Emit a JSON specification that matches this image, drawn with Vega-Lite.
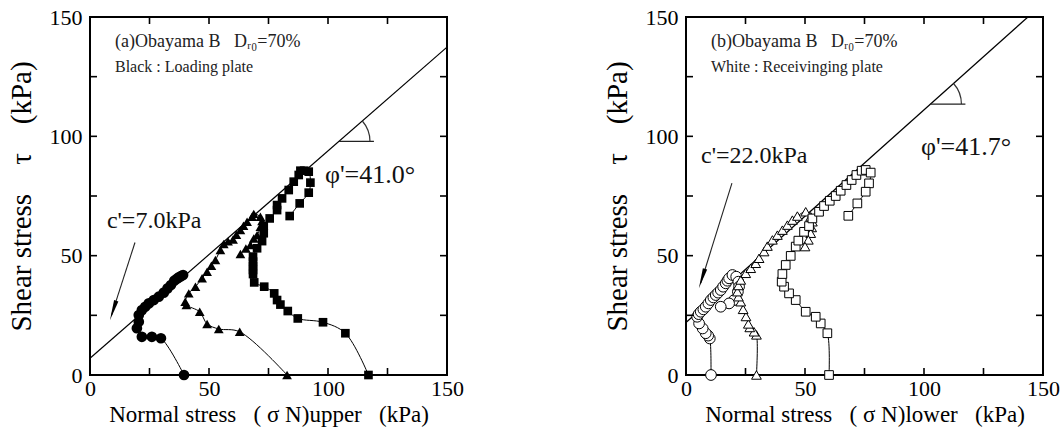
{
  "$schema": "https://vega.github.io/schema/vega-lite/v6.json",
  "padding": {"left": 6, "top": 5, "right": 12, "bottom": 4},
  "background": "white",
  "bounds": "flush",
  "spacing": 239,
  "config": {
    "font": "Liberation Serif",
    "view": {"stroke": "black", "strokeWidth": 2},
    "axis": {
      "domain": false,
      "grid": false,
      "ticks": false,
      "labelFont": "Liberation Serif",
      "labelFontSize": 22,
      "labelColor": "black",
      "titleFont": "Liberation Serif",
      "titleFontWeight": "normal",
      "titleColor": "black",
      "labelOverlap": false,
      "labelFlush": false
    },
    "tick": {"color": "black", "thickness": 1.6, "opacity": 1}
  },
  "datasets": {
    "axisSteps": [{"v": 0}, {"v": 25}, {"v": 50}, {"v": 75}, {"v": 100}, {"v": 125}, {"v": 150}],
    "upperFit": [{"c": 7.0, "phi": 41.0}],
    "lowerFit": [{"c": 22.0, "phi": 41.7}],
    "upperGuides": [
      {"part": "arrow", "sx": 18.9, "sy": 55.5, "ex": 9.0, "ey": 25.0},
      {"part": "angle", "sx": 104.6, "sy": 97.9, "ex": 119.3, "ey": 97.9}
    ],
    "lowerGuides": [
      {"part": "arrow", "sx": 19.3, "sy": 80.4, "ex": 6.2, "ey": 38.5},
      {"part": "angle", "sx": 102.7, "sy": 113.5, "ex": 117.4, "ey": 113.5}
    ],
    "upperPaths": [
      {"test": "T1", "step": 1, "sn": 39.5, "tau": 0},
      {"test": "T1", "step": 2, "sn": 29.8, "tau": 15.4},
      {"test": "T1", "step": 3, "sn": 26.0, "tau": 16.0},
      {"test": "T1", "step": 4, "sn": 21.8, "tau": 16.0},
      {"test": "T1", "step": 5, "sn": 19.7, "tau": 19.6},
      {"test": "T1", "step": 6, "sn": 20.5, "tau": 22.3},
      {"test": "T1", "step": 7, "sn": 20.5, "tau": 25.1},
      {"test": "T1", "step": 8, "sn": 21.8, "tau": 27.2},
      {"test": "T1", "step": 9, "sn": 23.2, "tau": 28.6},
      {"test": "T1", "step": 10, "sn": 24.7, "tau": 30.0},
      {"test": "T1", "step": 11, "sn": 26.8, "tau": 31.4},
      {"test": "T1", "step": 12, "sn": 28.9, "tau": 32.8},
      {"test": "T1", "step": 13, "sn": 31.0, "tau": 34.5},
      {"test": "T1", "step": 14, "sn": 32.6, "tau": 36.3},
      {"test": "T1", "step": 15, "sn": 34.0, "tau": 37.7},
      {"test": "T1", "step": 16, "sn": 35.4, "tau": 39.5},
      {"test": "T1", "step": 17, "sn": 36.5, "tau": 40.3},
      {"test": "T1", "step": 18, "sn": 37.3, "tau": 40.9},
      {"test": "T1", "step": 19, "sn": 38.2, "tau": 41.4},
      {"test": "T1", "step": 20, "sn": 39.1, "tau": 41.9},
      {"test": "T2", "step": 1, "sn": 82.8, "tau": 0},
      {"test": "T2", "step": 2, "sn": 62.9, "tau": 18.1},
      {"test": "T2", "step": 3, "sn": 54.1, "tau": 19.3},
      {"test": "T2", "step": 4, "sn": 49.2, "tau": 21.4},
      {"test": "T2", "step": 5, "sn": 46.1, "tau": 26.5},
      {"test": "T2", "step": 6, "sn": 40.5, "tau": 29.3},
      {"test": "T2", "step": 7, "sn": 40.0, "tau": 30.7},
      {"test": "T2", "step": 8, "sn": 41.5, "tau": 34.2},
      {"test": "T2", "step": 9, "sn": 44.3, "tau": 37.0},
      {"test": "T2", "step": 10, "sn": 47.1, "tau": 40.5},
      {"test": "T2", "step": 11, "sn": 49.2, "tau": 43.3},
      {"test": "T2", "step": 12, "sn": 51.0, "tau": 45.8},
      {"test": "T2", "step": 13, "sn": 52.7, "tau": 48.2},
      {"test": "T2", "step": 14, "sn": 54.8, "tau": 52.4},
      {"test": "T2", "step": 15, "sn": 56.2, "tau": 54.9},
      {"test": "T2", "step": 16, "sn": 58.0, "tau": 56.0},
      {"test": "T2", "step": 17, "sn": 60.1, "tau": 56.8},
      {"test": "T2", "step": 18, "sn": 61.5, "tau": 58.8},
      {"test": "T2", "step": 19, "sn": 63.2, "tau": 60.7},
      {"test": "T2", "step": 20, "sn": 64.5, "tau": 62.5},
      {"test": "T2", "step": 21, "sn": 66.0, "tau": 64.2},
      {"test": "T2", "step": 22, "sn": 68.1, "tau": 66.3},
      {"test": "T2", "step": 23, "sn": 68.8, "tau": 67.5},
      {"test": "T2", "step": 24, "sn": 71.6, "tau": 66.3},
      {"test": "T2", "step": 25, "sn": 72.3, "tau": 64.5},
      {"test": "T2", "step": 26, "sn": 71.6, "tau": 62.1},
      {"test": "T2", "step": 27, "sn": 70.2, "tau": 58.6},
      {"test": "T2", "step": 28, "sn": 68.8, "tau": 57.2},
      {"test": "T2", "step": 29, "sn": 67.4, "tau": 54.5},
      {"test": "T2", "step": 30, "sn": 65.5, "tau": 53.0},
      {"test": "T2", "step": 31, "sn": 63.2, "tau": 50.7},
      {"test": "T3", "step": 1, "sn": 117.0, "tau": 0},
      {"test": "T3", "step": 2, "sn": 107.3, "tau": 17.5},
      {"test": "T3", "step": 3, "sn": 97.9, "tau": 22.1},
      {"test": "T3", "step": 4, "sn": 87.3, "tau": 23.7},
      {"test": "T3", "step": 5, "sn": 83.1, "tau": 26.8},
      {"test": "T3", "step": 6, "sn": 80.0, "tau": 29.5},
      {"test": "T3", "step": 7, "sn": 78.6, "tau": 31.4},
      {"test": "T3", "step": 8, "sn": 77.4, "tau": 34.2},
      {"test": "T3", "step": 9, "sn": 73.2, "tau": 37.0},
      {"test": "T3", "step": 10, "sn": 69.0, "tau": 38.8},
      {"test": "T3", "step": 11, "sn": 68.5, "tau": 42.3},
      {"test": "T3", "step": 12, "sn": 68.5, "tau": 44.0},
      {"test": "T3", "step": 13, "sn": 68.5, "tau": 45.7},
      {"test": "T3", "step": 14, "sn": 68.5, "tau": 47.5},
      {"test": "T3", "step": 15, "sn": 68.5, "tau": 49.6},
      {"test": "T3", "step": 16, "sn": 70.2, "tau": 53.1},
      {"test": "T3", "step": 17, "sn": 72.3, "tau": 56.1},
      {"test": "T3", "step": 18, "sn": 73.0, "tau": 59.4},
      {"test": "T3", "step": 19, "sn": 73.0, "tau": 62.4},
      {"test": "T3", "step": 20, "sn": 75.5, "tau": 65.6},
      {"test": "T3", "step": 21, "sn": 78.6, "tau": 69.1},
      {"test": "T3", "step": 22, "sn": 78.6, "tau": 71.2},
      {"test": "T3", "step": 23, "sn": 80.7, "tau": 74.0},
      {"test": "T3", "step": 24, "sn": 83.5, "tau": 77.5},
      {"test": "T3", "step": 25, "sn": 85.6, "tau": 81.0},
      {"test": "T3", "step": 26, "sn": 87.7, "tau": 83.8},
      {"test": "T3", "step": 27, "sn": 88.4, "tau": 85.6},
      {"test": "T3", "step": 28, "sn": 90.0, "tau": 85.6},
      {"test": "T3", "step": 29, "sn": 91.9, "tau": 85.2},
      {"test": "T3", "step": 30, "sn": 92.6, "tau": 80.6},
      {"test": "T3", "step": 31, "sn": 91.9, "tau": 76.4},
      {"test": "T3", "step": 32, "sn": 88.1, "tau": 71.9},
      {"test": "T3", "step": 33, "sn": 83.9, "tau": 66.6}
    ],
    "lowerPaths": [
      {"test": "T1", "step": 1, "sn": 10.5, "tau": 0},
      {"test": "T1", "step": 2, "sn": 10.0, "tau": 15.3},
      {"test": "T1", "step": 3, "sn": 9.3, "tau": 16.5},
      {"test": "T1", "step": 4, "sn": 8.3, "tau": 17.5},
      {"test": "T1", "step": 5, "sn": 7.0, "tau": 19.5},
      {"test": "T1", "step": 6, "sn": 5.5, "tau": 21.6},
      {"test": "T1", "step": 7, "sn": 4.7, "tau": 24.4},
      {"test": "T1", "step": 8, "sn": 5.3, "tau": 25.5},
      {"test": "T1", "step": 9, "sn": 6.2, "tau": 26.5},
      {"test": "T1", "step": 10, "sn": 7.3, "tau": 27.5},
      {"test": "T1", "step": 11, "sn": 8.3, "tau": 28.6},
      {"test": "T1", "step": 12, "sn": 9.4, "tau": 30.0},
      {"test": "T1", "step": 13, "sn": 10.4, "tau": 31.4},
      {"test": "T1", "step": 14, "sn": 11.5, "tau": 32.5},
      {"test": "T1", "step": 15, "sn": 12.5, "tau": 33.5},
      {"test": "T1", "step": 16, "sn": 13.5, "tau": 34.5},
      {"test": "T1", "step": 17, "sn": 14.6, "tau": 35.6},
      {"test": "T1", "step": 18, "sn": 15.6, "tau": 37.0},
      {"test": "T1", "step": 19, "sn": 16.7, "tau": 38.4},
      {"test": "T1", "step": 20, "sn": 17.4, "tau": 39.5},
      {"test": "T1", "step": 21, "sn": 18.1, "tau": 40.5},
      {"test": "T1", "step": 22, "sn": 19.5, "tau": 41.9},
      {"test": "T1", "step": 23, "sn": 21.1, "tau": 41.2},
      {"test": "T1", "step": 24, "sn": 22.0, "tau": 39.1},
      {"test": "T1", "step": 25, "sn": 22.3, "tau": 37.0},
      {"test": "T1", "step": 26, "sn": 21.8, "tau": 34.9},
      {"test": "T1", "step": 27, "sn": 20.2, "tau": 31.4},
      {"test": "T1", "step": 28, "sn": 18.1, "tau": 30.0},
      {"test": "T1", "step": 29, "sn": 14.6, "tau": 28.6},
      {"test": "T2", "step": 1, "sn": 29.6, "tau": 0},
      {"test": "T2", "step": 2, "sn": 29.6, "tau": 16.8},
      {"test": "T2", "step": 3, "sn": 28.6, "tau": 18.1},
      {"test": "T2", "step": 4, "sn": 26.8, "tau": 19.9},
      {"test": "T2", "step": 5, "sn": 26.2, "tau": 21.4},
      {"test": "T2", "step": 6, "sn": 25.2, "tau": 24.5},
      {"test": "T2", "step": 7, "sn": 24.0, "tau": 27.5},
      {"test": "T2", "step": 8, "sn": 23.0, "tau": 30.7},
      {"test": "T2", "step": 9, "sn": 22.0, "tau": 32.8},
      {"test": "T2", "step": 10, "sn": 21.6, "tau": 34.9},
      {"test": "T2", "step": 11, "sn": 22.0, "tau": 37.5},
      {"test": "T2", "step": 12, "sn": 23.0, "tau": 39.8},
      {"test": "T2", "step": 13, "sn": 25.1, "tau": 42.6},
      {"test": "T2", "step": 14, "sn": 27.2, "tau": 44.7},
      {"test": "T2", "step": 15, "sn": 29.3, "tau": 46.8},
      {"test": "T2", "step": 16, "sn": 30.7, "tau": 48.9},
      {"test": "T2", "step": 17, "sn": 32.8, "tau": 51.7},
      {"test": "T2", "step": 18, "sn": 34.2, "tau": 54.0},
      {"test": "T2", "step": 19, "sn": 36.3, "tau": 56.6},
      {"test": "T2", "step": 20, "sn": 38.4, "tau": 58.6},
      {"test": "T2", "step": 21, "sn": 40.5, "tau": 60.7},
      {"test": "T2", "step": 22, "sn": 42.6, "tau": 62.8},
      {"test": "T2", "step": 23, "sn": 44.7, "tau": 64.9},
      {"test": "T2", "step": 24, "sn": 46.8, "tau": 66.6},
      {"test": "T2", "step": 25, "sn": 50.3, "tau": 68.4},
      {"test": "T2", "step": 26, "sn": 52.4, "tau": 66.3},
      {"test": "T2", "step": 27, "sn": 53.1, "tau": 64.2},
      {"test": "T2", "step": 28, "sn": 52.8, "tau": 61.8},
      {"test": "T2", "step": 29, "sn": 52.4, "tau": 59.4},
      {"test": "T2", "step": 30, "sn": 51.4, "tau": 56.6},
      {"test": "T2", "step": 31, "sn": 50.0, "tau": 53.8},
      {"test": "T3", "step": 1, "sn": 60.1, "tau": 0},
      {"test": "T3", "step": 2, "sn": 59.4, "tau": 17.5},
      {"test": "T3", "step": 3, "sn": 56.6, "tau": 21.6},
      {"test": "T3", "step": 4, "sn": 54.5, "tau": 24.4},
      {"test": "T3", "step": 5, "sn": 50.3, "tau": 26.5},
      {"test": "T3", "step": 6, "sn": 46.1, "tau": 31.4},
      {"test": "T3", "step": 7, "sn": 43.3, "tau": 34.2},
      {"test": "T3", "step": 8, "sn": 41.2, "tau": 37.0},
      {"test": "T3", "step": 9, "sn": 40.2, "tau": 39.1},
      {"test": "T3", "step": 10, "sn": 40.5, "tau": 42.3},
      {"test": "T3", "step": 11, "sn": 41.9, "tau": 46.1},
      {"test": "T3", "step": 12, "sn": 44.0, "tau": 49.9},
      {"test": "T3", "step": 13, "sn": 46.1, "tau": 53.8},
      {"test": "T3", "step": 14, "sn": 47.2, "tau": 56.3},
      {"test": "T3", "step": 15, "sn": 49.6, "tau": 60.0},
      {"test": "T3", "step": 16, "sn": 51.7, "tau": 62.4},
      {"test": "T3", "step": 17, "sn": 53.1, "tau": 65.6},
      {"test": "T3", "step": 18, "sn": 55.9, "tau": 68.4},
      {"test": "T3", "step": 19, "sn": 58.0, "tau": 70.8},
      {"test": "T3", "step": 20, "sn": 60.4, "tau": 73.0},
      {"test": "T3", "step": 21, "sn": 62.9, "tau": 75.0},
      {"test": "T3", "step": 22, "sn": 65.0, "tau": 77.2},
      {"test": "T3", "step": 23, "sn": 67.4, "tau": 79.6},
      {"test": "T3", "step": 24, "sn": 69.6, "tau": 81.7},
      {"test": "T3", "step": 25, "sn": 71.6, "tau": 83.8},
      {"test": "T3", "step": 26, "sn": 73.8, "tau": 85.6},
      {"test": "T3", "step": 27, "sn": 75.5, "tau": 85.9},
      {"test": "T3", "step": 28, "sn": 77.6, "tau": 84.8},
      {"test": "T3", "step": 29, "sn": 76.9, "tau": 80.3},
      {"test": "T3", "step": 30, "sn": 75.5, "tau": 76.8},
      {"test": "T3", "step": 31, "sn": 72.0, "tau": 71.9},
      {"test": "T3", "step": 32, "sn": 68.2, "tau": 66.7}
    ]
  },
  "hconcat": [
    {
      "width": 357,
      "height": 358,
      "layer": [
        {
          "data": {"name": "upperPaths"},
          "mark": {"type": "line", "color": "black", "strokeWidth": 1, "interpolate": "catmull-rom"},
          "encoding": {
            "x": {"field": "sn", "type": "quantitative", "scale": {"domain": [0, 150], "nice": false},
              "axis": {"orient": "bottom", "values": [0, 50, 100, 150],
                "labelPadding": 3, "title": "Normal stress\u00a0\u00a0\u00a0(\u00a0σ\u00a0N)upper\u00a0\u00a0\u00a0(kPa)", "titleFontSize": 23, "titlePadding": 4}},
            "y": {"field": "tau", "type": "quantitative", "scale": {"domain": [0, 150], "nice": false},
              "axis": {"orient": "left", "values": [0, 50, 100, 150],
                "labelPadding": 8, "title": "Shear stress\u00a0\u00a0\u00a0\u00a0τ\u00a0\u00a0\u00a0\u00a0(kPa)\u00a0\u00a0\u00a0\u00a0", "titleFontSize": 29, "titlePadding": 13}},
            "detail": {"field": "test", "type": "nominal"},
            "order": {"field": "step", "type": "quantitative"}
          }
        },
        {
          "data": {"name": "upperFit"},
          "transform": [
            {"calculate": "tan(datum.phi * PI / 180)", "as": "slope"},
            {"calculate": "0", "as": "snStart"},
            {"calculate": "min(150, (150 - datum.c) / datum.slope)", "as": "snEnd"},
            {"calculate": "datum.c + datum.snEnd * datum.slope", "as": "tauEnd"}
          ],
          "mark": {"type": "rule", "color": "black", "strokeWidth": 1.2},
          "encoding": {
            "x": {"field": "snStart", "type": "quantitative"},
            "y": {"field": "c", "type": "quantitative"},
            "x2": {"field": "snEnd"},
            "y2": {"field": "tauEnd"}
          }
        },
        {
          "data": {"name": "upperGuides"},
          "mark": {"type": "rule", "color": "#222", "strokeWidth": 1.1},
          "encoding": {
            "x": {"field": "sx", "type": "quantitative"},
            "y": {"field": "sy", "type": "quantitative"},
            "x2": {"field": "ex"},
            "y2": {"field": "ey"}
          }
        },
        {
          "data": {"name": "upperFit"},
          "mark": {"type": "point", "shape": "M1,0A1,1,0,0,0,0.7547,-0.6561", "size": 3844, "filled": false, "stroke": "#333", "strokeWidth": 1.2, "opacity": 1},
          "encoding": {
            "x": {"datum": 104.6, "type": "quantitative"},
            "y": {"datum": 97.9, "type": "quantitative"}
          }
        },
        {
          "data": {"name": "upperFit"},
          "mark": {"type": "point", "shape": "M0,1L-0.22,-1L0.22,-1Z", "size": 420, "angle": 17.9, "filled": true, "color": "black", "opacity": 1},
          "encoding": {
            "x": {"datum": 9.7, "type": "quantitative"},
            "y": {"datum": 27.0, "type": "quantitative"}
          }
        },
        {
          "data": {"name": "upperPaths"},
          "mark": {"type": "point", "filled": true, "color": "black", "opacity": 1},
          "encoding": {
            "x": {"field": "sn", "type": "quantitative"},
            "y": {"field": "tau", "type": "quantitative"},
            "shape": {"field": "test", "type": "nominal", "legend": null,
              "scale": {"domain": ["T1", "T2", "T3"], "range": ["circle", "triangle-up", "square"]}},
            "size": {"field": "test", "type": "nominal", "legend": null,
              "scale": {"domain": ["T1", "T2", "T3"], "range": [115, 75, 64]}}
          }
        },
        {
          "data": {"name": "upperFit"},
          "transform": [{"calculate": "\"c'=\" + format(datum.c, '.1f') + 'kPa'", "as": "cText"}],
          "mark": {"type": "text", "align": "left", "baseline": "alphabetic", "fontSize": 24, "color": "#111"},
          "encoding": {
            "x": {"datum": 7.1, "type": "quantitative"},
            "y": {"datum": 61.6, "type": "quantitative"},
            "text": {"field": "cText", "type": "nominal"}
          }
        },
        {
          "data": {"name": "upperFit"},
          "transform": [{"calculate": "\"φ'=\" + format(datum.phi, '.1f') + '°'", "as": "phiText"}],
          "mark": {"type": "text", "align": "left", "baseline": "alphabetic", "fontSize": 26, "color": "#111"},
          "encoding": {
            "x": {"datum": 98.7, "type": "quantitative"},
            "y": {"datum": 80.4, "type": "quantitative"},
            "text": {"field": "phiText", "type": "nominal"}
          }
        },
        {
          "data": {"name": "upperFit"},
          "mark": {"type": "text", "align": "left", "baseline": "alphabetic", "fontSize": 18, "color": "#222", "text": "(a)Obayama B\u00a0\u00a0\u00a0Dᵣ₀=70%"},
          "encoding": {
            "x": {"datum": 10.5, "type": "quantitative"},
            "y": {"datum": 137.4, "type": "quantitative"}
          }
        },
        {
          "data": {"name": "upperFit"},
          "mark": {"type": "text", "align": "left", "baseline": "alphabetic", "fontSize": 16, "color": "#222", "text": "Black : Loading plate"},
          "encoding": {
            "x": {"datum": 10.5, "type": "quantitative"},
            "y": {"datum": 127.0, "type": "quantitative"}
          }
        },
        {
          "data": {"name": "axisSteps"},
          "mark": {"type": "tick", "orient": "vertical", "size": 14, "clip": true},
          "encoding": {"x": {"field": "v", "type": "quantitative"}, "y": {"datum": 0, "type": "quantitative"}}
        },
        {
          "data": {"name": "axisSteps"},
          "mark": {"type": "tick", "orient": "vertical", "size": 14, "clip": true},
          "encoding": {"x": {"field": "v", "type": "quantitative"}, "y": {"datum": 150, "type": "quantitative"}}
        },
        {
          "data": {"name": "axisSteps"},
          "mark": {"type": "tick", "orient": "horizontal", "size": 14, "clip": true},
          "encoding": {"y": {"field": "v", "type": "quantitative"}, "x": {"datum": 0, "type": "quantitative"}}
        },
        {
          "data": {"name": "axisSteps"},
          "mark": {"type": "tick", "orient": "horizontal", "size": 14, "clip": true},
          "encoding": {"y": {"field": "v", "type": "quantitative"}, "x": {"datum": 150, "type": "quantitative"}}
        }
      ]
    },
    {
      "width": 357,
      "height": 358,
      "layer": [
        {
          "data": {"name": "lowerPaths"},
          "mark": {"type": "line", "color": "black", "strokeWidth": 1, "interpolate": "catmull-rom"},
          "encoding": {
            "x": {"field": "sn", "type": "quantitative", "scale": {"domain": [0, 150], "nice": false},
              "axis": {"orient": "bottom", "values": [0, 50, 100, 150],
                "labelPadding": 3, "title": "Normal stress\u00a0\u00a0\u00a0(\u00a0σ\u00a0N)lower\u00a0\u00a0\u00a0(kPa)", "titleFontSize": 23, "titlePadding": 4}},
            "y": {"field": "tau", "type": "quantitative", "scale": {"domain": [0, 150], "nice": false},
              "axis": {"orient": "left", "values": [0, 50, 100, 150],
                "labelPadding": 8, "title": "Shear stress\u00a0\u00a0\u00a0\u00a0τ\u00a0\u00a0\u00a0\u00a0(kPa)\u00a0\u00a0\u00a0\u00a0", "titleFontSize": 29, "titlePadding": 13}},
            "detail": {"field": "test", "type": "nominal"},
            "order": {"field": "step", "type": "quantitative"}
          }
        },
        {
          "data": {"name": "lowerFit"},
          "transform": [
            {"calculate": "tan(datum.phi * PI / 180)", "as": "slope"},
            {"calculate": "0", "as": "snStart"},
            {"calculate": "min(150, (150 - datum.c) / datum.slope)", "as": "snEnd"},
            {"calculate": "datum.c + datum.snEnd * datum.slope", "as": "tauEnd"}
          ],
          "mark": {"type": "rule", "color": "black", "strokeWidth": 1.2},
          "encoding": {
            "x": {"field": "snStart", "type": "quantitative"},
            "y": {"field": "c", "type": "quantitative"},
            "x2": {"field": "snEnd"},
            "y2": {"field": "tauEnd"}
          }
        },
        {
          "data": {"name": "lowerGuides"},
          "mark": {"type": "rule", "color": "#222", "strokeWidth": 1.1},
          "encoding": {
            "x": {"field": "sx", "type": "quantitative"},
            "y": {"field": "sy", "type": "quantitative"},
            "x2": {"field": "ex"},
            "y2": {"field": "ey"}
          }
        },
        {
          "data": {"name": "lowerFit"},
          "mark": {"type": "point", "shape": "M1,0A1,1,0,0,0,0.7466,-0.6652", "size": 3844, "filled": false, "stroke": "#333", "strokeWidth": 1.2, "opacity": 1},
          "encoding": {
            "x": {"datum": 102.7, "type": "quantitative"},
            "y": {"datum": 113.5, "type": "quantitative"}
          }
        },
        {
          "data": {"name": "lowerFit"},
          "mark": {"type": "point", "shape": "M0,1L-0.22,-1L0.22,-1Z", "size": 420, "angle": 17.4, "filled": true, "color": "black", "opacity": 1},
          "encoding": {
            "x": {"datum": 6.7, "type": "quantitative"},
            "y": {"datum": 40.4, "type": "quantitative"}
          }
        },
        {
          "data": {"name": "lowerPaths"},
          "mark": {"type": "point", "filled": true, "fill": "white", "stroke": "black", "strokeWidth": 1, "opacity": 1},
          "encoding": {
            "x": {"field": "sn", "type": "quantitative"},
            "y": {"field": "tau", "type": "quantitative"},
            "shape": {"field": "test", "type": "nominal", "legend": null,
              "scale": {"domain": ["T1", "T2", "T3"], "range": ["circle", "triangle-up", "square"]}},
            "size": {"field": "test", "type": "nominal", "legend": null,
              "scale": {"domain": ["T1", "T2", "T3"], "range": [100, 65, 72]}}
          }
        },
        {
          "data": {"name": "lowerFit"},
          "transform": [{"calculate": "\"c'=\" + format(datum.c, '.1f') + 'kPa'", "as": "cText"}],
          "mark": {"type": "text", "align": "left", "baseline": "alphabetic", "fontSize": 24, "color": "#111"},
          "encoding": {
            "x": {"datum": 6.3, "type": "quantitative"},
            "y": {"datum": 88.8, "type": "quantitative"},
            "text": {"field": "cText", "type": "nominal"}
          }
        },
        {
          "data": {"name": "lowerFit"},
          "transform": [{"calculate": "\"φ'=\" + format(datum.phi, '.1f') + '°'", "as": "phiText"}],
          "mark": {"type": "text", "align": "left", "baseline": "alphabetic", "fontSize": 26, "color": "#111"},
          "encoding": {
            "x": {"datum": 98.7, "type": "quantitative"},
            "y": {"datum": 92.2, "type": "quantitative"},
            "text": {"field": "phiText", "type": "nominal"}
          }
        },
        {
          "data": {"name": "lowerFit"},
          "mark": {"type": "text", "align": "left", "baseline": "alphabetic", "fontSize": 18, "color": "#222", "text": "(b)Obayama B\u00a0\u00a0\u00a0Dᵣ₀=70%"},
          "encoding": {
            "x": {"datum": 10.5, "type": "quantitative"},
            "y": {"datum": 137.4, "type": "quantitative"}
          }
        },
        {
          "data": {"name": "lowerFit"},
          "mark": {"type": "text", "align": "left", "baseline": "alphabetic", "fontSize": 16, "color": "#222", "text": "White : Receivinging plate"},
          "encoding": {
            "x": {"datum": 10.5, "type": "quantitative"},
            "y": {"datum": 127.0, "type": "quantitative"}
          }
        },
        {
          "data": {"name": "axisSteps"},
          "mark": {"type": "tick", "orient": "vertical", "size": 14, "clip": true},
          "encoding": {"x": {"field": "v", "type": "quantitative"}, "y": {"datum": 0, "type": "quantitative"}}
        },
        {
          "data": {"name": "axisSteps"},
          "mark": {"type": "tick", "orient": "vertical", "size": 14, "clip": true},
          "encoding": {"x": {"field": "v", "type": "quantitative"}, "y": {"datum": 150, "type": "quantitative"}}
        },
        {
          "data": {"name": "axisSteps"},
          "mark": {"type": "tick", "orient": "horizontal", "size": 14, "clip": true},
          "encoding": {"y": {"field": "v", "type": "quantitative"}, "x": {"datum": 0, "type": "quantitative"}}
        },
        {
          "data": {"name": "axisSteps"},
          "mark": {"type": "tick", "orient": "horizontal", "size": 14, "clip": true},
          "encoding": {"y": {"field": "v", "type": "quantitative"}, "x": {"datum": 150, "type": "quantitative"}}
        }
      ]
    }
  ]
}
